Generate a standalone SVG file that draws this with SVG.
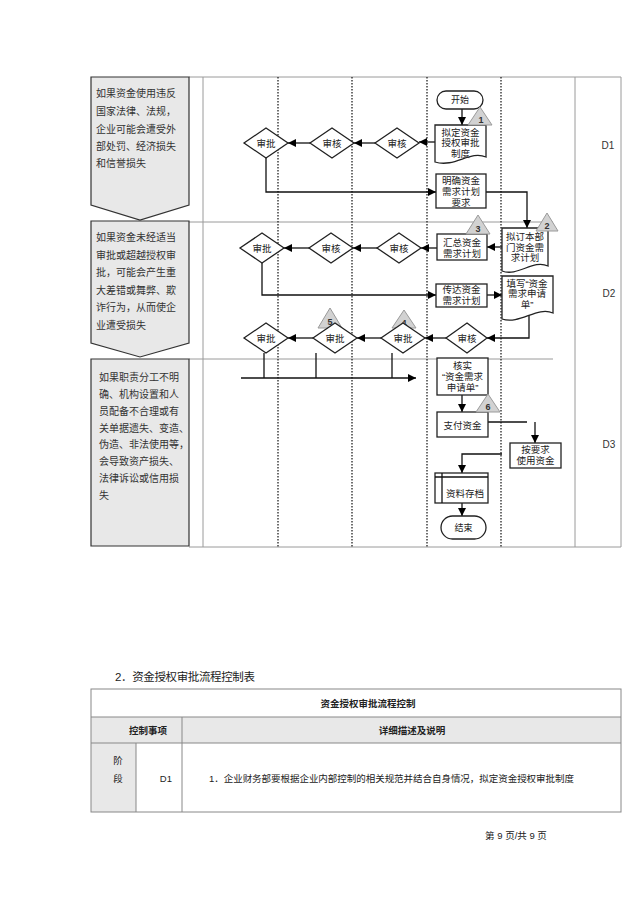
<svg xmlns="http://www.w3.org/2000/svg" width="640" height="905" viewBox="0 0 640 905">
<style>
.bg{fill:#fff}
.frame{stroke:#9a9a9a;stroke-width:1;fill:none}
.dot{stroke:#222;stroke-width:1.3;stroke-dasharray:1.5 1.5;fill:none}
.lbox{fill:#e8e8e8;stroke:#333;stroke-width:1.2}
.box{fill:#fff;stroke:#222;stroke-width:1.3}
.tri{fill:#d2d2d2;stroke:#9a9a9a;stroke-width:1}
.conn{fill:none;stroke:#111;stroke-width:1.3}
.t{font-family:"Liberation Sans","Noto Sans CJK SC",sans-serif;font-size:9.5px;fill:#222;text-anchor:middle;dominant-baseline:central}
.lt{font-family:"Liberation Sans","Noto Sans CJK SC",sans-serif;font-size:10px;fill:#333;dominant-baseline:central}
.tn{font-family:"Liberation Sans","Noto Sans CJK SC",sans-serif;font-size:9px;font-weight:bold;fill:#333;text-anchor:middle;dominant-baseline:central}
.d{font-family:"Liberation Sans","Noto Sans CJK SC",sans-serif;font-size:10px;fill:#333;text-anchor:middle;dominant-baseline:central}
.tb{stroke:#888;stroke-width:1;fill:none}
.th{font-family:"Liberation Sans","Noto Sans CJK SC",sans-serif;font-size:9.5px;font-weight:bold;fill:#222;text-anchor:middle;dominant-baseline:central}
.tt{font-family:"Liberation Sans","Noto Sans CJK SC",sans-serif;font-size:9.5px;fill:#222;dominant-baseline:central}
</style>
<defs>
<marker id="ah" viewBox="0 0 10 10" refX="10" refY="5" markerWidth="8" markerHeight="8" markerUnits="userSpaceOnUse" orient="auto"><path d="M0,0 L10,5 L0,10 Z" fill="#000"/></marker>
</defs>
<rect class="bg" x="0" y="0" width="640" height="905"/>

<g id="frame">
<line class="frame" x1="189" y1="77" x2="621" y2="77"/>
<line class="frame" x1="189" y1="547" x2="621" y2="547"/>
<line class="frame" x1="203" y1="77" x2="203" y2="547"/>
<line class="frame" x1="575" y1="77" x2="575" y2="547"/>
<line class="frame" x1="621" y1="77" x2="621" y2="547"/>
<line class="frame" x1="189" y1="222" x2="553" y2="222"/>
<line class="frame" x1="189" y1="359" x2="553" y2="359"/>
<line class="dot" x1="278" y1="77" x2="278" y2="547"/>
<line class="dot" x1="352" y1="77" x2="352" y2="547"/>
<line class="dot" x1="427" y1="77" x2="427" y2="547"/>
<line class="dot" x1="501" y1="77" x2="501" y2="547"/>
<text class="d" x="608" y="145">D1</text>
<text class="d" x="609" y="293">D2</text>
<text class="d" x="609" y="444">D3</text>
</g>

<g id="risk1">
<path class="lbox" d="M91,77 H189 V205 L140,220 L91,205 Z"/>
<text class="lt" x="96" y="93">如果资金使用违反</text>
<text class="lt" x="96" y="111">国家法律、法规，</text>
<text class="lt" x="96" y="129">企业可能会遭受外</text>
<text class="lt" x="96" y="146">部处罚、经济损失</text>
<text class="lt" x="96" y="163">和信誉损失</text>
</g>
<g id="risk2">
<path class="lbox" d="M91,221 H189 V343 L140,357 L91,343 Z"/>
<text class="lt" x="96" y="237">如果资金未经适当</text>
<text class="lt" x="96" y="255">审批或超越授权审</text>
<text class="lt" x="96" y="272">批，可能会产生重</text>
<text class="lt" x="96" y="290">大差错或舞弊、欺</text>
<text class="lt" x="96" y="307">诈行为，从而使企</text>
<text class="lt" x="96" y="325">业遭受损失</text>
</g>
<g id="risk3">
<path class="lbox" d="M91,359 H189 V546 H91 Z"/>
<text class="lt" x="99" y="377">如果职责分工不明</text>
<text class="lt" x="99" y="394">确、机构设置和人</text>
<text class="lt" x="99" y="411">员配备不合理或有</text>
<text class="lt" x="99" y="428">关单据遗失、变造、</text>
<text class="lt" x="99" y="444">伪造、非法使用等，</text>
<text class="lt" x="99" y="461">会导致资产损失、</text>
<text class="lt" x="99" y="478">法律诉讼或信用损</text>
<text class="lt" x="99" y="495">失</text>
</g>

<g id="connectors">
<line class="conn" x1="462" y1="109" x2="462" y2="125" marker-end="url(#ah)"/>
<line class="conn" x1="435" y1="142" x2="419" y2="142" marker-end="url(#ah)"/>
<line class="conn" x1="375" y1="143" x2="354" y2="143" marker-end="url(#ah)"/>
<line class="conn" x1="310" y1="143" x2="288" y2="143" marker-end="url(#ah)"/>
<polyline class="conn" points="266,158 266,192 436,192" marker-end="url(#ah)"/>
<polyline class="conn" points="486,192 527,192 527,228" marker-end="url(#ah)"/>
<line class="conn" x1="502" y1="247" x2="487" y2="247" marker-end="url(#ah)"/>
<line class="conn" x1="437" y1="248" x2="421" y2="248" marker-end="url(#ah)"/>
<line class="conn" x1="377" y1="248" x2="353" y2="248" marker-end="url(#ah)"/>
<line class="conn" x1="309" y1="248" x2="284" y2="248" marker-end="url(#ah)"/>
<polyline class="conn" points="262,263 262,295 436,295" marker-end="url(#ah)"/>
<line class="conn" x1="487" y1="295" x2="502" y2="295" marker-end="url(#ah)"/>
<polyline class="conn" points="529,315 529,338 487,338" marker-end="url(#ah)"/>
<line class="conn" x1="446" y1="338" x2="425" y2="338" marker-end="url(#ah)"/>
<line class="conn" x1="381" y1="338" x2="357" y2="338" marker-end="url(#ah)"/>
<line class="conn" x1="313" y1="338" x2="288" y2="338" marker-end="url(#ah)"/>
<line class="conn" x1="264" y1="353" x2="264" y2="378"/>
<line class="conn" x1="316" y1="353" x2="316" y2="378"/>
<line class="conn" x1="392" y1="353" x2="392" y2="378"/>
<line class="conn" x1="241" y1="378" x2="416" y2="378" marker-end="url(#ah)"/>
<line class="conn" x1="462" y1="395" x2="462" y2="412" marker-end="url(#ah)"/>
<line class="conn" x1="488" y1="422" x2="527" y2="422"/>
<line class="conn" x1="535" y1="422" x2="535" y2="443" marker-end="url(#ah)"/>
<polyline class="conn" points="502,454 462,454 462,473" marker-end="url(#ah)"/>
<line class="conn" x1="462" y1="503" x2="462" y2="516" marker-end="url(#ah)"/>
</g>

<g id="tri5"><path class="tri" d="M330,308 L342,328 L318,328 Z"/><text class="tn" x="330" y="322">5</text></g>
<g id="tri4"><path class="tri" d="M404,310 L416,328 L392,328 Z"/><text class="tn" x="404" y="323">4</text></g>

<g id="start"><rect class="box" x="437" y="91" width="46" height="18" rx="9"/><text class="t" x="460" y="100" style="font-size:9px">开始</text></g>
<g id="n_draft"><path class="box" d="M435,125 H486 V157 C470,150 455,168 435,162 Z"/>
<text class="t" x="460.5" y="132">拟定资金</text><text class="t" x="460.5" y="142.5">授权审批</text><text class="t" x="460.5" y="153">制度</text></g>
<g id="d1c"><path class="box" d="M397,128 L419,143 L397,158 L375,143 Z"/><text class="t" x="397" y="143">审核</text></g>
<g id="d1b"><path class="box" d="M332,128 L354,143 L332,158 L310,143 Z"/><text class="t" x="332" y="143">审核</text></g>
<g id="d1a"><path class="box" d="M266,128 L288,143 L266,158 L244,143 Z"/><text class="t" x="266" y="143">审批</text></g>
<g id="n_req"><rect class="box" x="436" y="174" width="50" height="34"/>
<text class="t" x="461" y="180">明确资金</text><text class="t" x="461" y="191">需求计划</text><text class="t" x="461" y="202">要求</text></g>

<g id="n_dept"><path class="box" d="M502,228 H548 V266 C533,259 518,277 502,271 Z"/>
<text class="t" x="525" y="236">拟订本部</text><text class="t" x="525" y="247">门资金需</text><text class="t" x="525" y="257">求计划</text></g>
<g id="n_sum"><rect class="box" x="437" y="234" width="50" height="26"/>
<text class="t" x="462" y="242">汇总资金</text><text class="t" x="462" y="253">需求计划</text></g>
<g id="d2c"><path class="box" d="M399,233 L421,248 L399,263 L377,248 Z"/><text class="t" x="399" y="248">审核</text></g>
<g id="d2b"><path class="box" d="M331,233 L353,248 L331,263 L309,248 Z"/><text class="t" x="331" y="248">审核</text></g>
<g id="d2a"><path class="box" d="M262,233 L284,248 L262,263 L240,248 Z"/><text class="t" x="262" y="248">审批</text></g>
<g id="n_pass"><rect class="box" x="436" y="284" width="51" height="23"/>
<text class="t" x="461.5" y="289.5">传达资金</text><text class="t" x="461.5" y="300">需求计划</text></g>
<g id="n_fill"><path class="box" d="M502,276 H553 V313 C537,306 520,325 502,319 Z"/>
<text class="t" x="527" y="283">填写“资金</text><text class="t" x="527" y="293.5">需求申请</text><text class="t" x="527" y="304">单”</text></g>
<g id="d3d"><path class="box" d="M467,323 L487,338 L467,353 L446,338 Z"/><text class="t" x="467" y="338">审核</text></g>
<g id="d3c"><path class="box" d="M403,323 L425,338 L403,353 L381,338 Z"/><text class="t" x="403" y="338">审批</text></g>
<g id="d3b"><path class="box" d="M335,323 L357,338 L335,353 L313,338 Z"/><text class="t" x="335" y="338">审批</text></g>
<g id="d3a"><path class="box" d="M266,323 L288,338 L266,353 L244,338 Z"/><text class="t" x="266" y="338">审批</text></g>

<g id="n_check"><rect class="box" x="437" y="358" width="51" height="37"/>
<text class="t" x="462.5" y="365">核实</text><text class="t" x="462.5" y="376.5">“资金需求</text><text class="t" x="462.5" y="387.5">申请单”</text></g>
<g id="n_pay"><rect class="box" x="437" y="412" width="51" height="25"/><text class="t" x="462.5" y="425">支付资金</text></g>
<g id="n_use"><rect class="box" x="510" y="443" width="51" height="25"/>
<text class="t" x="535.5" y="449.5">按要求</text><text class="t" x="535.5" y="460.5">使用资金</text></g>
<g id="n_archive"><rect class="box" x="435" y="473" width="53" height="30"/>
<line class="conn" x1="442" y1="473" x2="442" y2="503"/><line class="conn" x1="435" y1="477" x2="488" y2="477"/>
<text class="t" x="465" y="493">资料存档</text></g>
<g id="end"><rect class="box" x="441" y="516" width="45" height="23" rx="11.5"/><text class="t" x="463.5" y="528" style="font-size:9px">结束</text></g>

<g id="tri1"><path class="tri" d="M480,107 L492,125 L468,125 Z"/><text class="tn" x="481" y="120">1</text></g>
<g id="tri2"><path class="tri" d="M547,213 L558,231 L536,231 Z"/><text class="tn" x="547" y="226">2</text></g>
<g id="tri3"><path class="tri" d="M478,215 L490,234 L466,234 Z"/><text class="tn" x="478" y="229">3</text></g>
<g id="tri6"><path class="tri" d="M488,394 L500,412 L476,412 Z"/><text class="tn" x="488" y="407">6</text></g>

<g id="table">
<text class="tt" x="115" y="677" style="font-size:11.5px" textLength="140">2．资金授权审批流程控制表</text>
<rect x="91" y="717" width="530" height="26" fill="#e8e8e8"/>
<rect x="91" y="743" width="45" height="69" fill="#e8e8e8"/>
<rect class="tb" x="91" y="689" width="530" height="123"/>
<line class="tb" x1="91" y1="717" x2="621" y2="717"/>
<line class="tb" x1="91" y1="743" x2="621" y2="743"/>
<line class="tb" x1="182" y1="717" x2="182" y2="812"/>
<line class="tb" x1="136" y1="743" x2="136" y2="812"/>
<text class="th" x="368" y="703">资金授权审批流程控制</text>
<text class="th" x="148" y="730">控制事项</text>
<text class="th" x="412" y="730">详细描述及说明</text>
<text class="t" x="118" y="760">阶</text>
<text class="t" x="118" y="778">段</text>
<text class="tt" x="172" y="778" style="text-anchor:end">D1</text>
<text class="tt" x="209" y="778" textLength="365">1．企业财务部要根据企业内部控制的相关规范并结合自身情况，拟定资金授权审批制度</text>
</g>
<text class="t" x="516" y="835">第 9 页/共 9 页</text>
</svg>
